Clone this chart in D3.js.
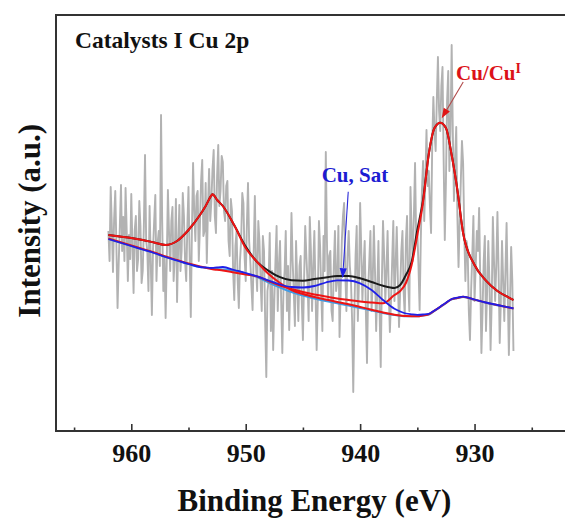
<!DOCTYPE html>
<html><head><meta charset="utf-8">
<script src="https://cdn.jsdelivr.net/npm/d3@7"></script>
<style>
body{margin:0;background:#fff}
svg{display:block}
text{font-family:"Liberation Serif","Times New Roman",serif;font-weight:bold}
</style>
</head><body>
<svg id="c" width="565" height="518"></svg>
<script>
// ---------- data ----------
// raw spectrum: binding energy grid 962.0 -> 926.6 eV, step 0.1 eV
const rawStart = 962.0, rawStep = 0.1;
const rawIntensity = [
  200,170,244,205,159,212,240,185,123,168,
  205,246,180,214,170,243,200,150,196,172,
  237,185,138,201,215,160,172,230,205,148,
  160,205,276,190,180,140,225,170,116,182,
  210,236,150,188,200,165,316,210,140,175,
  113,170,241,198,160,210,224,150,175,232,
  129,185,226,160,180,238,215,170,150,205,
  244,175,114,200,268,220,190,235,240,170,
  205,250,271,195,200,248,168,222,262,210,
  230,262,281,215,198,255,286,225,240,275,
  269,220,210,245,250,190,175,232,220,160,
  131,185,200,150,123,170,190,238,228,175,
  150,205,248,190,170,145,121,180,235,165,
  140,210,190,150,120,195,180,110,54,140,
  150,198,100,160,81,130,170,205,120,165,
  190,130,78,140,160,200,120,165,101,150,
  218,170,140,105,190,150,110,165,175,130,
  91,150,205,175,150,110,214,180,120,165,
  200,140,81,130,210,185,140,100,195,160,
  279,190,130,175,180,120,110,165,200,140,
  150,205,94,140,190,215,228,160,120,175,
  200,165,150,110,39,120,175,205,110,150,
  228,180,130,165,190,120,68,140,170,200,
  120,150,205,160,100,140,190,120,64,150,
  210,175,130,160,200,140,99,130,170,210,
  130,165,204,150,104,140,180,200,140,115,
  190,215,150,120,244,200,170,215,268,190,
  200,165,121,190,240,270,210,250,301,245,
  260,225,198,285,334,300,280,330,374,320,
  300,345,364,270,191,250,330,360,260,300,
  386,300,230,270,304,215,164,210,250,290,
  268,200,150,190,181,120,91,140,175,215,
  130,165,200,180,223,150,78,120,170,195,
  100,140,190,150,81,130,214,170,130,165,
  219,160,88,130,190,150,110,160,208,140,
  76,130,184,150,80
];

// fitted curves, sampled at these energies
const fitEnergy = [962,961,960,959,958,957,956,955,954,953.5,953,952.9,952.5,952,951,950,949,948,947,946,945,944,943,942,941,940,939,938,937,936.5,936,935.5,935,934.5,934,933.5,933,932.5,932,931.5,931,930,929,928,927,926.6];
const envelope = [196,194.5,193,191,188.5,186,190,201,216,225,235.5,236.7,231,225,205.7,184.4,169,160.2,153.8,150.7,150.3,152,153.5,155,155,152.7,149,145.2,143,146,156,169,201,231,277,303,308.2,303,276,241,198,166,150.4,140,133.4,131];
const peakCu2p12 = [196,194.5,193,191,188.5,186,190,201,216,225,235.5,236.7,231,225,205.7,183,169,157,148,141,137,134,131.5,129,126.7,124,121.3,118.5,116.3,115.6,114.9,114.8,114.8,115.6,116.7,120.4,124.2,128,131.9,133.1,134.2,131.4,128.4,125.9,123.6,122.6];
const peakCu2p32 = [192.5,189,185.5,182,178.5,174.5,171,167.5,164.5,163.2,162,161.8,161.2,160.5,158.5,156.5,154.5,150,145.5,142,139,136.5,134.5,132.5,131,129.5,128.5,127.7,136,140,148,166,196,229,277,303,308.2,303,276,241,198,166,150.4,140,133.4,131];
const satellite = [192,188.5,185,181.5,178,174,170.5,167,164,163.5,163,163.1,163.6,164,161,158,154.7,150.5,146.5,144,143.5,145,148.5,150.7,150.5,147.7,141,131,122.2,119.5,117.5,116.7,116.2,116.5,117.2,120.5,124.3,128.3,132,133.4,134.3,131.5,128.5,126,123.7,122.7];
const background = [192,188.5,185,181.5,178,174,170.5,167,164,163.2,162.5,162.4,162,161.5,160.5,157.5,154,148.5,143.5,139,135.5,132.5,130,127.7,125.5,123,120.5,118,116,115.3,114.7,114.7,114.7,115.5,116.5,120.2,124,127.9,131.7,132.9,134,131.2,128.2,125.7,123.4,122.4];

const majorTicks = [960,950,940,930];
const minorTicks = [965,955,945,935,925];

// ---------- chart ----------
const L = 56, R = 567, T = 15, B = 431;
const svg = d3.select('#c');
const x = d3.scaleLinear().domain([966.58, 921.92]).range([L, R]);
const y = d3.scaleLinear().domain([0, 416]).range([B, T]);

const raw = rawIntensity.map((v,i)=>({e: +(rawStart - i*rawStep).toFixed(2), v}));

svg.append('path')
  .datum(raw)
  .attr('fill','none').attr('stroke','#b2b2b2').attr('stroke-width',1.9)
  .attr('stroke-linejoin','round')
  .attr('d', d3.line().x(d=>x(d.e)).y(d=>y(d.v)));

const smooth = d3.line().curve(d3.curveMonotoneX).x(d=>x(d[0])).y(d=>y(d[1]));
function curve(vals, color, w){
  svg.append('path')
    .datum(fitEnergy.map((e,i)=>[e, vals[i]]).reverse())
    .attr('fill','none').attr('stroke',color).attr('stroke-width',w)
    .attr('d', smooth);
}
curve(background, '#3f9be6', 2);
curve(envelope, '#1a1a1a', 2);
curve(peakCu2p12, '#ee1414', 2);
curve(peakCu2p32, '#ee1414', 2);
curve(satellite, '#1f1fe8', 1.8);

// frame
svg.append('rect').attr('x',L).attr('y',T).attr('width',R-L).attr('height',B-T)
  .attr('fill','none').attr('stroke','#333').attr('stroke-width',2);

// axes
const ax = svg.append('g').attr('transform',`translate(0,${B})`)
  .call(d3.axisBottom(x).tickValues(majorTicks).tickSize(-7).tickPadding(13).tickFormat(d3.format('d')));
ax.select('.domain').remove();
ax.selectAll('line').attr('stroke','#333').attr('stroke-width',1.6);
ax.selectAll('text').attr('font-size',26).attr('fill','#111')
  .style('font-family','"Liberation Serif","Times New Roman",serif').style('font-weight','bold');
const axm = svg.append('g').attr('transform',`translate(0,${B})`)
  .call(d3.axisBottom(x).tickValues(minorTicks).tickSize(-3.5).tickFormat(''));
axm.select('.domain').remove();
axm.selectAll('line').attr('stroke','#333').attr('stroke-width',1.6);

// labels
svg.append('text').attr('x',75).attr('y',48.3).attr('font-size',23.5).attr('fill','#111').text('Catalysts I Cu 2p');
svg.append('text').attr('transform','translate(39.5,220.8) rotate(-90)').attr('text-anchor','middle')
  .attr('font-size',31).attr('fill','#111').text('Intensity (a.u.)');
svg.append('text').attr('x',314.5).attr('y',510.5).attr('text-anchor','middle')
  .attr('font-size',31).attr('fill','#111').text('Binding Energy (eV)');

svg.append('text').attr('x',321.7).attr('y',181.7).attr('font-size',21).attr('fill','#1c1cd2').text('Cu, Sat');
const cu = svg.append('text').attr('x',456).attr('y',80).attr('font-size',21).attr('fill','#dc1218');
cu.append('tspan').text('Cu/Cu');
cu.append('tspan').attr('font-size',14).attr('dy',-7).text('I');

// arrows (data coordinates)
function arrow(e0,v0,e1,v1,lineColor,headColor){
  const x0=x(e0),y0=y(v0),x1=x(e1),y1=y(v1);
  const a=Math.atan2(y1-y0,x1-x0), len=10, hw=3.6;
  const bx=x1-len*Math.cos(a), by=y1-len*Math.sin(a);
  svg.append('line').attr('x1',x0).attr('y1',y0).attr('x2',bx).attr('y2',by)
    .attr('stroke',lineColor).attr('stroke-width',1.1);
  const p=[[x1,y1],[bx+hw*Math.sin(a),by-hw*Math.cos(a)],[bx-hw*Math.sin(a),by+hw*Math.cos(a)]];
  svg.append('polygon').attr('points',p.map(q=>q.join(',')).join(' ')).attr('fill',headColor);
}
arrow(930.99,349,932.87,312.7,'#b04848','#e01515');
arrow(941.04,239.3,941.53,152.7,'#2a2ad8','#1f1fe8');
</script>
</body></html>
